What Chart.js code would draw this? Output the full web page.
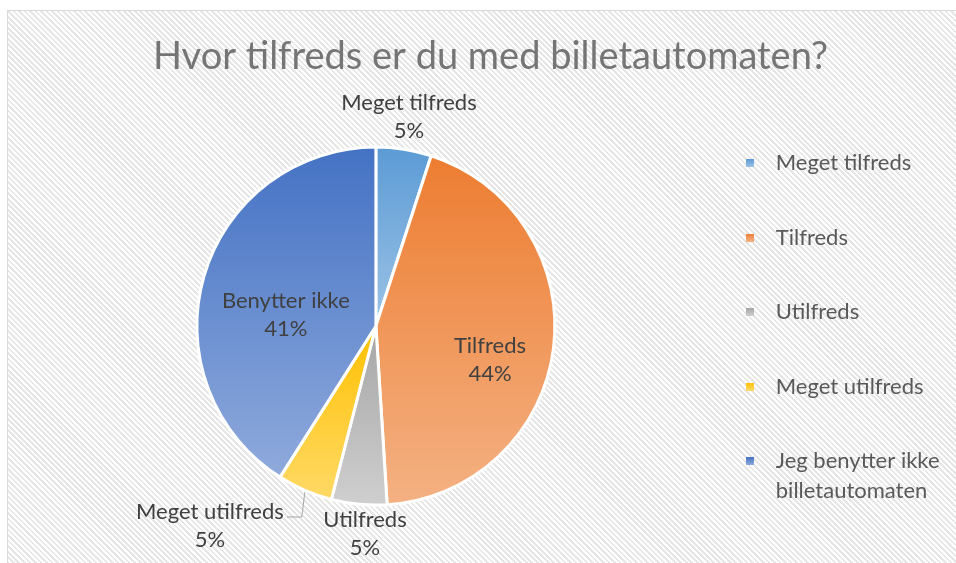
<!DOCTYPE html>
<html>
<head>
<meta charset="utf-8">
<script src="https://cdn.jsdelivr.net/npm/chart.js@4.4.1/dist/chart.umd.min.js"></script>
<style>
body{margin:0;background:#fff;}
#wrap{position:relative;width:956px;height:563px;overflow:hidden;}
#frame{position:absolute;left:7px;top:10px;width:980px;height:600px;border-left:1px solid #d9d9d9;border-top:1px solid #d9d9d9;
background:repeating-linear-gradient(45deg,#ffffff 0,#ffffff 2px,#e6e6e6 2px,#e6e6e6 3.9px);}
canvas{position:absolute;left:0;top:0;}
</style>
</head>
<body>
<div id="wrap">
<div id="frame"></div>
<canvas id="pieChart" width="956" height="563"></canvas>
</div>
<script>
const titleText="Hvor tilfreds er du med billetautomaten?";
const categories=["Meget tilfreds","Tilfreds","Utilfreds","Meget utilfreds","Jeg benytter ikke billetautomaten"];
const legendLines=[["Meget tilfreds",""],["Tilfreds",""],["Utilfreds",""],["Meget utilfreds",""],["Jeg benytter ikke","billetautomaten"]];
const sliceLabels=["Meget tilfreds","Tilfreds","Utilfreds","Meget utilfreds","Benytter ikke"];
const values=[5,44,5,5,41];

const topColors=["#5b9bd5","#ed7d31","#a5a5a5","#ffc000","#4472c4"];
const bottomColors=["#9dc3e6","#f4b183","#cfcfcf","#ffd966","#8faadc"];

// where each data label sits: fraction of radius, angle shift in degrees
const labelRadius=[1.18,0.665,1.162,1.452,0.507];
const labelShift=[0,9.4,-2.4,16.3,-9.2];
const leaderLine=[false,false,false,true,false];

const borderW=3;

function sliceRange(i){
let total=values.reduce((a,b)=>a+b,0);
let start=0;
for(let k=0;k<i;k++) start+=values[k];
return [start/total*360,(start+values[i])/total*360];
}

function sliceFill(context){
const chart=context.chart;
const area=chart.chartArea;
const i=context.dataIndex;
if(!area) return topColors[i];
const cx=(area.left+area.right)/2;
const cy=(area.top+area.bottom)/2;
const r=(Math.min(area.width,area.height)-borderW)/2;
const [a1,a2]=sliceRange(i);
let ys=[cy,cy-r*Math.cos(a1*Math.PI/180),cy-r*Math.cos(a2*Math.PI/180)];
if(a1<=0.001) ys.push(cy-r);
if(a1<=180 && a2>=180) ys.push(cy+r);
const y0=Math.min(...ys), y1=Math.max(...ys);
const g=chart.ctx.createLinearGradient(0,y0,0,y1);
g.addColorStop(0,topColors[i]);
g.addColorStop(1,bottomColors[i]);
return g;
}

function legendSquare(i){
const c=document.createElement("canvas");
c.width=8;c.height=8;
const x=c.getContext("2d");
const g=x.createLinearGradient(0,0,0,8);
g.addColorStop(0,topColors[i]);
g.addColorStop(1,bottomColors[i]);
x.fillStyle=g;
x.fillRect(0,0,8,8);
return c;
}

const sliceLabelPlugin={
id:"sliceLabels",
afterDatasetsDraw(chart){
const ctx=chart.ctx;
const arcs=chart.getDatasetMeta(0).data;
const total=values.reduce((a,b)=>a+b,0);
ctx.save();
ctx.font="22px Lato";
ctx.fillStyle="#404040";
ctx.textAlign="center";
ctx.textBaseline="middle";
arcs.forEach((arc,i)=>{
const mid=(arc.startAngle+arc.endAngle)/2;
const ang=mid+labelShift[i]*Math.PI/180;
const rr=arc.outerRadius*labelRadius[i];
const lx=arc.x+Math.cos(ang)*rr;
const ly=arc.y+Math.sin(ang)*rr;
const pct=Math.round(values[i]/total*100)+"%";
if(leaderLine[i]){
const ex=arc.x+Math.cos(mid)*arc.outerRadius;
const ey=arc.y+Math.sin(mid)*arc.outerRadius;
const w=ctx.measureText(sliceLabels[i]).width;
ctx.strokeStyle="#a6a6a6";
ctx.lineWidth=1;
ctx.beginPath();
ctx.moveTo(ex,ey+2);
ctx.lineTo(ex-3,ly-9);
ctx.lineTo(lx+w/2+3,ly-9);
ctx.stroke();
}
ctx.fillText(sliceLabels[i],lx,ly-14);
ctx.fillText(pct,lx,ly+14);
});
ctx.restore();
}
};

new Chart(document.getElementById("pieChart"),{
type:"pie",
data:{
labels:categories,
datasets:[{
data:values,
backgroundColor:sliceFill,
borderColor:"#ffffff",
borderWidth:borderW
}]
},
options:{
responsive:false,
animation:false,
devicePixelRatio:1,
layout:{padding:{left:31.5,right:6.5,top:0,bottom:0}},
plugins:{
tooltip:{enabled:false},
title:{
display:true,
text:titleText,
color:"#757575",
font:{family:"Lato",size:38,weight:"normal",lineHeight:1.2},
padding:{top:34.2,bottom:65.7}
},
subtitle:{
display:true,
position:"bottom",
text:" ",
font:{size:10,lineHeight:1.2},
padding:{top:44.5,bottom:0}
},
legend:{
position:"right",
align:"start",
fullSize:true,
onClick:null,
title:{
display:true,
text:" ",
font:{size:10,lineHeight:1.2},
padding:{top:0,bottom:125.5}
},
labels:{
usePointStyle:true,
pointStyleWidth:30,
boxHeight:8,
padding:14.5,
color:"#595959",
font:{family:"Lato",size:22,lineHeight:30/22},
generateLabels(chart){
return legendLines.map((t,i)=>({
text:t,
fillStyle:topColors[i],
strokeStyle:"transparent",
lineWidth:0,
pointStyle:legendSquare(i),
fontColor:"#595959",
hidden:false,
index:i
}));
}
}
}
}
},
plugins:[sliceLabelPlugin]
});
</script>
</body>
</html>
